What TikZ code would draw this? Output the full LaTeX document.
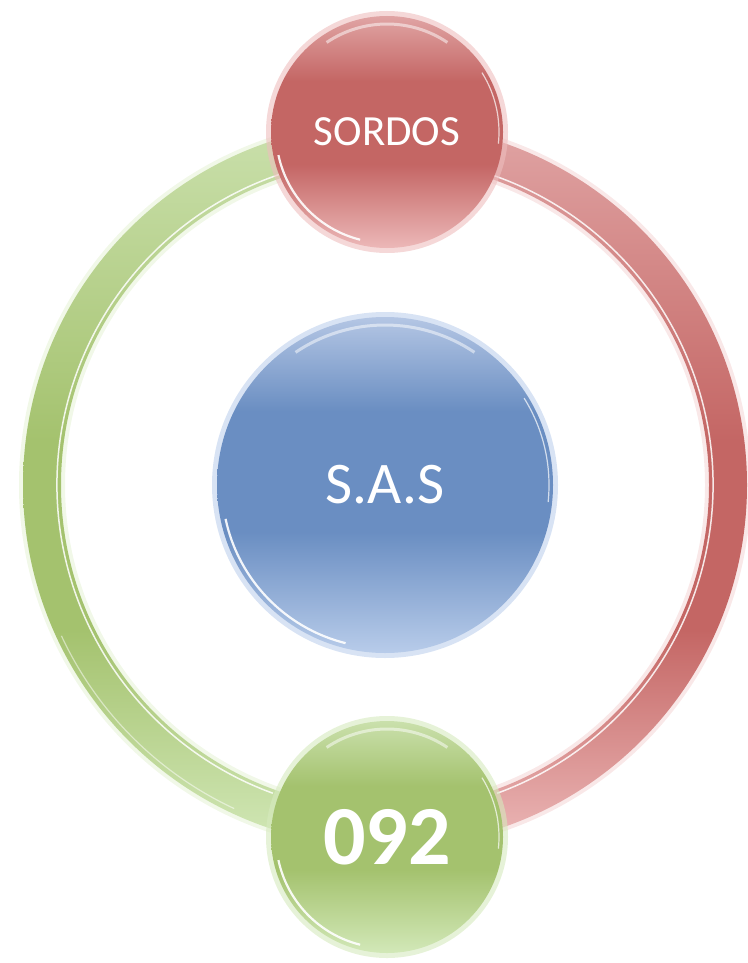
\documentclass[tikz,border=0pt]{standalone}
\usepackage{fontspec}
\setmainfont{Carlito}
\usetikzlibrary{calc}
\definecolor{redM}{RGB}{196,102,100}
\definecolor{redT}{RGB}{224,164,164}
\definecolor{redB}{RGB}{236,184,184}
\definecolor{redG}{RGB}{238,190,190}
\definecolor{bluM}{RGB}{106,142,194}
\definecolor{bluT}{RGB}{180,198,228}
\definecolor{bluB}{RGB}{184,204,234}
\definecolor{bluG}{RGB}{190,208,236}
\definecolor{grnM}{RGB}{164,194,110}
\definecolor{grnT}{RGB}{202,224,172}
\definecolor{grnB}{RGB}{210,232,184}
\definecolor{grnG}{RGB}{214,234,190}
\pgfdeclareverticalshading{redbub}{100bp}{color(0bp)=(redB); color(25bp)=(redB); color(43bp)=(redM); color(61bp)=(redM); color(75bp)=(redT); color(100bp)=(redT)}
\pgfdeclareverticalshading{blubub}{100bp}{color(0bp)=(bluB); color(25bp)=(bluB); color(43bp)=(bluM); color(61bp)=(bluM); color(75bp)=(bluT); color(100bp)=(bluT)}
\pgfdeclareverticalshading{grnbub}{100bp}{color(0bp)=(grnB); color(25bp)=(grnB); color(43bp)=(grnM); color(61bp)=(grnM); color(75bp)=(grnT); color(100bp)=(grnT)}
\pgfdeclareverticalshading{redring}{100bp}{color(0bp)=(redB); color(25bp)=(redB); color(40bp)=(redM); color(53bp)=(redM); color(75bp)=(redT); color(100bp)=(redT)}
\pgfdeclareverticalshading{grnring}{100bp}{color(0bp)=(grnB); color(25bp)=(grnB); color(40bp)=(grnM); color(53bp)=(grnM); color(75bp)=(grnT); color(100bp)=(grnT)}
\newcommand{\glossarcs}[2]{%
  \draw[white, line width=3, opacity=0.5] ([shift={(#1.center)}]124:{#2-8}) arc[start angle=124,end angle=56,radius={#2-8}];
  \draw[white, line width=2.2, opacity=0.9] ([shift={(#1.center)}]192:{#2-5}) arc[start angle=192,end angle=256,radius={#2-5}];
  \draw[white, line width=1.2, opacity=0.7] ([shift={(#1.center)}]32:{#2-4}) arc[start angle=32,end angle=-6,radius={#2-4}];
}
\begin{document}
\begin{tikzpicture}[x=1pt,y=1pt,
  bubble/.style={circle, inner sep=0pt, text=white},
  glow/.style={line width=46, opacity=0.35}]
\useasboundingbox (0,0) rectangle (747,-963);
\coordinate (ringc) at (385,-485);
% soft glow of ring
\draw[glow, redG] ([shift={(ringc)}]90:343) arc[start angle=90,end angle=-90,radius=343];
\draw[glow, grnG] ([shift={(ringc)}]90:343) arc[start angle=90,end angle=270,radius=343];
% red half ring
\shade[shading=redring]
  ([shift={(ringc)}]90:362) arc[start angle=90,end angle=-90,radius=362]
  -- ([shift={(ringc)}]-90:324) arc[start angle=-90,end angle=90,radius=324] -- cycle;
% green half ring
\shade[shading=grnring]
  ([shift={(ringc)}]90:362) arc[start angle=90,end angle=270,radius=362]
  -- ([shift={(ringc)}]270:324) arc[start angle=270,end angle=90,radius=324] -- cycle;
% white highlights on ring
\draw[white, line width=1.5, opacity=0.85] ([shift={(ringc)}]75:328) arc[start angle=75,end angle=-70,radius=328];
\draw[white, line width=1.5, opacity=0.85] ([shift={(ringc)}]105:328) arc[start angle=105,end angle=250,radius=328];
\draw[white, line width=1.2, opacity=0.5] ([shift={(ringc)}]205:357) arc[start angle=205,end angle=245,radius=357];
% glows of bubbles
\fill[redG, opacity=0.6] (387,-132) circle (121);
\fill[bluG, opacity=0.6] (385,-485) circle (173);
\fill[grnG, opacity=0.6] (387,-837) circle (121);
% bubbles
\node[bubble, minimum size=232, shading=redbub, shade,
  font=\fontsize{43}{50}\selectfont] (top) at (387,-132) {SORDOS};
\node[bubble, minimum size=336, shading=blubub, shade,
  font=\fontsize{59}{66}\selectfont] (mid) at (385,-485) {S.A.S};
\node[bubble, minimum size=232, shading=grnbub, shade,
  font=\bfseries\fontsize{84}{90}\selectfont] (bot) at (387,-837) {092};
\glossarcs{top}{116}
\glossarcs{mid}{168}
\glossarcs{bot}{116}
\end{tikzpicture}
\end{document}
